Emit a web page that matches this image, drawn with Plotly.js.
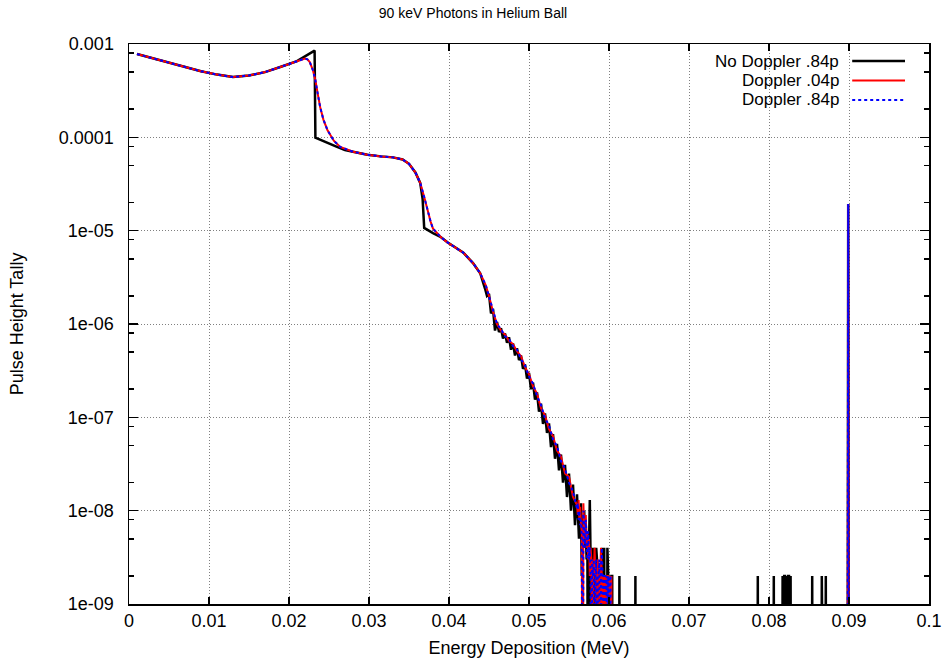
<!DOCTYPE html>
<html>
<head>
<meta charset="utf-8">
<script src="https://cdn.plot.ly/plotly-3.0.1.min.js"></script>
<style>
  html, body { margin: 0; padding: 0; background: #fff; }
  #chart { width: 946px; height: 667px; }
</style>
</head>
<body>
<div id="chart"></div>
<script>
// Pulse height tally for 90 keV photons in a helium ball (MeV, tally per bin).
// Empty bins are stored as 0.

const energyNoDoppler = [
  0.001, 0.003, 0.005, 0.007, 0.009, 0.011, 0.013, 0.015, 0.017, 0.019, 0.021,
  0.0232, 0.0233, 0.0260, 0.0270, 0.0280, 0.0298, 0.0315, 0.0330, 0.0342, 0.0350,
  0.0358, 0.0364, 0.0367, 0.0369, 0.0380, 0.0390, 0.0398, 0.0410, 0.0418, 0.0430, 0.0439,
  0.04450, 0.04475, 0.04500, 0.04525, 0.04550, 0.04575, 0.04600, 0.04625, 0.04650, 0.04675,
  0.04700, 0.04725, 0.04750, 0.04775, 0.04800, 0.04825, 0.04850, 0.04875, 0.04900, 0.04925,
  0.04950, 0.04975, 0.05000, 0.05025, 0.05050, 0.05075, 0.05100, 0.05125, 0.05150, 0.05175,
  0.05200, 0.05225, 0.05250, 0.05275, 0.05300, 0.05325, 0.05350, 0.05375, 0.05400, 0.05425,
  0.05450, 0.05475, 0.05500, 0.05525, 0.05550, 0.05575, 0.05600, 0.05625, 0.05650,
  0.0566, 0.0567, 0.0568, 0.0569, 0.0570, 0.0571, 0.0572, 0.0573, 0.0574, 0.0575,
  0.0576, 0.0577, 0.0578, 0.0579, 0.0580, 0.0581, 0.0582, 0.0583, 0.0584, 0.0585,
  0.0586, 0.0587, 0.0588, 0.0589, 0.0590, 0.0591, 0.0592, 0.0593, 0.0594, 0.0595,
  0.0596, 0.0597, 0.0598, 0.0599, 0.0600, 0.0601, 0.0602, 0.0603, 0.0604, 0.0605,
  0.0612, 0.0613, 0.0614, 0.0632, 0.0633, 0.0634,
  0.0785, 0.0786, 0.0787, 0.0805, 0.0806, 0.0807,
  0.0816, 0.0817, 0.0818, 0.0819, 0.0820, 0.0821, 0.0822, 0.0823, 0.0824, 0.0825, 0.0826, 0.0827, 0.0828,
  0.0853, 0.0854, 0.0855, 0.0865, 0.0866, 0.0867, 0.0870, 0.0871, 0.0872,
  0.0898, 0.0899, 0.0900
];
const tallyNoDoppler = [
  7.8e-4, 7.0e-4, 6.25e-4, 5.6e-4, 5.1e-4, 4.7e-4, 4.42e-4, 4.6e-4, 5.0e-4, 5.7e-4, 6.55e-4,
  8.5e-4, 9.9e-5, 7.9e-5, 7.3e-5, 7.0e-5, 6.5e-5, 6.25e-5, 6.1e-5, 5.8e-5, 5.2e-5,
  4.2e-5, 3.25e-5, 2.2e-5, 1.07e-5, 9.4e-6, 8.5e-6, 7.5e-6, 6.5e-6, 5.8e-6, 4.5e-6, 3.5e-6,
  2.4e-6, 2.0e-6, 2.1e-6, 1.3e-6, 1.45e-6, 8.5e-7, 1.05e-6, 8.2e-7, 9.0e-7, 7.0e-7,
  7.9e-7, 6.3e-7, 7.2e-7, 5.3e-7, 6.2e-7, 4.6e-7, 5.5e-7, 4.1e-7, 4.6e-7, 3.3e-7,
  3.7e-7, 2.6e-7, 3.0e-7, 2.0e-7, 2.35e-7, 1.55e-7, 1.85e-7, 1.15e-7, 1.4e-7, 8.5e-8,
  1.1e-7, 6.8e-8, 8.6e-8, 4.8e-8, 6.6e-8, 3.6e-8, 5.2e-8, 2.7e-8, 4.0e-8, 2.0e-8,
  3.1e-8, 1.4e-8, 2.5e-8, 1.0e-8, 1.9e-8, 7e-9, 1.5e-8, 5e-9, 1.2e-8,
  2e-9, 9e-9, 6e-9, 1.0e-8, 4e-9, 7e-9, 3e-9, 6e-9, 0, 4e-9,
  1.3e-8, 3e-9, 0, 4e-9, 2e-9, 4e-9, 0, 2e-9, 4e-9, 3e-9,
  0, 2e-9, 0, 2e-9, 0, 0, 4e-9, 0, 4e-9, 0,
  2e-9, 0, 4e-9, 2e-9, 0, 2e-9, 0, 2e-9, 2e-9, 0,
  0, 2e-9, 0, 0, 2e-9, 0,
  0, 2e-9, 0, 0, 2e-9, 0,
  0, 2e-9, 0, 2e-9, 2e-9, 0, 2e-9, 0, 2e-9, 2e-9, 0, 2e-9, 0,
  0, 2e-9, 0, 0, 2e-9, 0, 0, 2e-9, 0,
  0, 1.93e-5, 0
];

const energyDoppler04 = [
  0.001, 0.003, 0.005, 0.007, 0.009, 0.011, 0.013, 0.015, 0.017, 0.019, 0.021,
  0.0215, 0.0220, 0.0223, 0.0226, 0.0230, 0.0233, 0.0236, 0.0239, 0.0243, 0.0248,
  0.0256, 0.0264, 0.0280, 0.0298, 0.0315, 0.0330, 0.0342, 0.0350, 0.0358, 0.0364,
  0.0369, 0.0373, 0.0377, 0.0380, 0.0390, 0.0398, 0.0410, 0.0418, 0.0430, 0.0439, 0.0446,
  0.0450, 0.0455, 0.0460, 0.0465, 0.0470, 0.0475, 0.0480, 0.0485, 0.0490, 0.0495,
  0.0500, 0.0505, 0.0510, 0.0515, 0.0520, 0.0525, 0.0530, 0.0535, 0.0540, 0.0545,
  0.0550, 0.0555, 0.0560,
  0.0561, 0.0562, 0.0563, 0.0564, 0.0565, 0.0566, 0.0567, 0.0568, 0.0569, 0.0570,
  0.0571, 0.0572, 0.0573, 0.0574, 0.0575, 0.0576, 0.0577, 0.0578, 0.0579, 0.0580,
  0.0581, 0.0582, 0.0583, 0.0584, 0.0585, 0.0586, 0.0587, 0.0588, 0.0589, 0.0590,
  0.0591, 0.0592, 0.0593, 0.0594, 0.0595, 0.0596, 0.0597, 0.0598, 0.0599, 0.0600,
  0.0601, 0.0602, 0.0603, 0.0604,
  0.0898, 0.0899, 0.0900
];
const tallyDoppler04 = [
  7.8e-4, 7.0e-4, 6.25e-4, 5.6e-4, 5.1e-4, 4.7e-4, 4.42e-4, 4.6e-4, 5.0e-4, 5.7e-4, 6.55e-4,
  6.85e-4, 7.0e-4, 6.85e-4, 6.4e-4, 5.2e-4, 4.1e-4, 2.9e-4, 2.1e-4, 1.55e-4, 1.2e-4,
  9.2e-5, 7.9e-5, 7.0e-5, 6.5e-5, 6.25e-5, 6.1e-5, 5.8e-5, 5.2e-5, 4.2e-5, 3.25e-5,
  2.3e-5, 1.65e-5, 1.25e-5, 1.05e-5, 8.5e-6, 7.5e-6, 6.5e-6, 5.8e-6, 4.5e-6, 3.5e-6, 2.6e-6,
  2.0e-6, 1.35e-6, 1.0e-6, 8.5e-7, 7.7e-7, 6.6e-7, 6.1e-7, 5.1e-7, 4.5e-7, 3.45e-7,
  2.9e-7, 2.15e-7, 1.8e-7, 1.25e-7, 1.05e-7, 7.5e-8, 6.3e-8, 4.4e-8, 3.8e-8, 2.5e-8,
  2.3e-8, 1.4e-8, 1.15e-8,
  9e-9, 1.3e-8, 8e-9, 1.1e-8, 7e-9, 6e-9, 0, 1.2e-8, 6e-9, 5e-9,
  9e-9, 4e-9, 6e-9, 3e-9, 5e-9, 2e-9, 4e-9, 3e-9, 0, 3e-9,
  2e-9, 4e-9, 2e-9, 0, 2e-9, 3e-9, 2e-9, 0, 2e-9, 4e-9,
  2e-9, 0, 2e-9, 2e-9, 0, 2e-9, 0, 2e-9, 2e-9, 0,
  2e-9, 0, 2e-9, 0,
  0, 1.93e-5, 0
];

const energyDoppler84 = [
  0.001, 0.003, 0.005, 0.007, 0.009, 0.011, 0.013, 0.015, 0.017, 0.019, 0.021,
  0.0215, 0.0220, 0.0223, 0.0226, 0.0230, 0.0233, 0.0236, 0.0239, 0.0243, 0.0248,
  0.0256, 0.0264, 0.0280, 0.0298, 0.0315, 0.0330, 0.0342, 0.0350, 0.0358, 0.0364,
  0.0369, 0.0373, 0.0377, 0.0380, 0.0390, 0.0398, 0.0410, 0.0418, 0.0430, 0.0439, 0.0446,
  0.0450, 0.0455, 0.0460, 0.0465, 0.0470, 0.0475, 0.0480, 0.0485, 0.0490, 0.0495,
  0.0500, 0.0505, 0.0510, 0.0515, 0.0520, 0.0525, 0.0530, 0.0535, 0.0540, 0.0545,
  0.0550, 0.0555, 0.0560,
  0.0561, 0.0562, 0.0563, 0.0564, 0.0565, 0.0566, 0.0567, 0.0568, 0.0569, 0.0570,
  0.0571, 0.0572, 0.0573, 0.0574, 0.0575, 0.0576, 0.0577, 0.0578, 0.0579, 0.0580,
  0.0581, 0.0582, 0.0583, 0.0584, 0.0585, 0.0586, 0.0587, 0.0588, 0.0589, 0.0590,
  0.0591, 0.0592, 0.0593, 0.0594, 0.0595, 0.0596, 0.0597, 0.0598, 0.0599, 0.0600,
  0.0601, 0.0602, 0.0603,
  0.0898, 0.0899, 0.0900
];
const tallyDoppler84 = [
  7.8e-4, 7.0e-4, 6.25e-4, 5.6e-4, 5.1e-4, 4.7e-4, 4.42e-4, 4.6e-4, 5.0e-4, 5.7e-4, 6.55e-4,
  6.85e-4, 7.0e-4, 6.85e-4, 6.4e-4, 5.2e-4, 4.1e-4, 2.9e-4, 2.1e-4, 1.55e-4, 1.2e-4,
  9.2e-5, 7.9e-5, 7.0e-5, 6.5e-5, 6.25e-5, 6.1e-5, 5.8e-5, 5.2e-5, 4.2e-5, 3.25e-5,
  2.3e-5, 1.65e-5, 1.25e-5, 1.05e-5, 8.5e-6, 7.5e-6, 6.5e-6, 5.8e-6, 4.5e-6, 3.5e-6, 2.6e-6,
  1.95e-6, 1.4e-6, 1.0e-6, 8.8e-7, 7.4e-7, 6.9e-7, 5.8e-7, 5.3e-7, 4.2e-7, 3.6e-7,
  2.75e-7, 2.3e-7, 1.7e-7, 1.35e-7, 9.8e-8, 8.2e-8, 5.8e-8, 4.9e-8, 3.4e-8, 2.8e-8,
  2.0e-8, 1.6e-8, 1.05e-8,
  1.2e-8, 8e-9, 1.0e-8, 7e-9, 8e-9, 5e-9, 0, 1.0e-8, 7e-9, 4e-9,
  8e-9, 5e-9, 3e-9, 6e-9, 3e-9, 4e-9, 2e-9, 0, 3e-9, 2e-9,
  3e-9, 0, 2e-9, 3e-9, 0, 2e-9, 2e-9, 3e-9, 0, 2e-9,
  4e-9, 2e-9, 0, 2e-9, 2e-9, 0, 2e-9, 0, 2e-9, 0,
  2e-9, 2e-9, 0,
  0, 1.93e-5, 0
];

const seriesNames = ['No Doppler .84p', 'Doppler .04p', 'Doppler .84p'];

const xTickValues = [0, 0.01, 0.02, 0.03, 0.04, 0.05, 0.06, 0.07, 0.08, 0.09, 0.1];
const xTickLabels = ['0', '0.01', '0.02', '0.03', '0.04', '0.05', '0.06', '0.07', '0.08', '0.09', '0.1'];
const yTickValues = [1e-9, 1e-8, 1e-7, 1e-6, 1e-5, 1e-4, 1e-3];
const yTickLabels = ['1e-09', '1e-08', '1e-07', '1e-06', '1e-05', '0.0001', '0.001'];

// Empty bins have no logarithm: push them far below the axis so the
// line plunges straight out of the plotting box.
const BELOW_AXIS = 1e-13;
const forLog = arr => arr.map(v => (v > 0 ? v : BELOW_AXIS));

// minor tick marks at 2, 5 and 8 within each decade
const yMinorTicks = [];
for (let p = -9; p < -3; p++) {
  [2, 5, 8].forEach(m => yMinorTicks.push(m * Math.pow(10, p)));
}

const FONT = '"Liberation Sans", Arial, Helvetica, sans-serif';
const lineStyles = [
  { color: '#000000', width: 2.5 },
  { color: '#ff0000', width: 2 },
  { color: '#0000ff', width: 2, dash: '3px,3px' }
];

const traces = [
  { x: energyNoDoppler, y: forLog(tallyNoDoppler) },
  { x: energyDoppler04, y: forLog(tallyDoppler04) },
  { x: energyDoppler84, y: forLog(tallyDoppler84) }
].map((t, i) => ({
  type: 'scatter',
  mode: 'lines',
  name: seriesNames[i],
  x: t.x,
  y: t.y,
  line: lineStyles[i],
  showlegend: false,
  hoverinfo: 'x+y+name'
}));

// key box in the top right corner: label text then a line sample
const keyRows = [0.9696, 0.9348, 0.9];
const annotations = seriesNames.map((name, i) => ({
  xref: 'paper', yref: 'paper',
  x: 0.889, y: keyRows[i],
  xanchor: 'right', yanchor: 'middle',
  borderpad: 0,
  text: name, showarrow: false,
  font: { family: FONT, size: 17, color: '#000' }
}));
const shapes = [
  {
    type: 'rect', xref: 'paper', yref: 'paper', layer: 'between',
    x0: 0.665, x1: 0.998, y0: 0.882, y1: 0.998,
    fillcolor: '#ffffff', line: { width: 0 }
  }
].concat(seriesNames.map((name, i) => ({
  type: 'line', xref: 'paper', yref: 'paper', layer: 'above',
  x0: 0.904, x1: 0.97, y0: keyRows[i], y1: keyRows[i],
  line: lineStyles[i]
})));

const axisCommon = {
  showline: true,
  linecolor: '#000',
  linewidth: 1.5,
  mirror: 'ticks',
  ticks: 'inside',
  tickcolor: '#000',
  tickwidth: 1.5,
  showgrid: true,
  gridcolor: '#808080',
  gridwidth: 1,
  griddash: '1px,2px',
  zeroline: false,
  tickfont: { family: FONT, size: 18, color: '#000' }
};

const layout = {
  width: 946,
  height: 667,
  margin: { l: 129, r: 17, t: 44, b: 63 },
  paper_bgcolor: '#fff',
  plot_bgcolor: '#fff',
  font: { family: FONT, color: '#000' },
  title: {
    text: '90 keV Photons in Helium Ball',
    font: { family: FONT, size: 14, color: '#000' },
    x: 0.5, xref: 'container', xanchor: 'center',
    y: 1 - 13 / 667, yref: 'container', yanchor: 'middle'
  },
  xaxis: Object.assign({}, axisCommon, {
    range: [0, 0.1],
    tickmode: 'array',
    tickvals: xTickValues,
    ticktext: xTickLabels,
    ticklen: 7,
    title: { text: 'Energy Deposition (MeV)', font: { family: FONT, size: 18 }, standoff: 11 }
  }),
  yaxis: Object.assign({}, axisCommon, {
    type: 'log',
    range: [-9, -3],
    tickmode: 'array',
    tickvals: yTickValues,
    ticktext: yTickLabels,
    ticklen: 9,
    ticklabelstandoff: 10,
    minor: {
      tickmode: 'array',
      tickvals: yMinorTicks,
      ticks: 'inside',
      ticklen: 5,
      tickwidth: 1.5,
      tickcolor: '#000',
      showgrid: false
    },
    title: { text: 'Pulse Height Tally', font: { family: FONT, size: 18 }, standoff: 30 }
  }),
  annotations: annotations,
  shapes: shapes
};

Plotly.newPlot('chart', traces, layout, { staticPlot: true, displayModeBar: false });
</script>
</body>
</html>
